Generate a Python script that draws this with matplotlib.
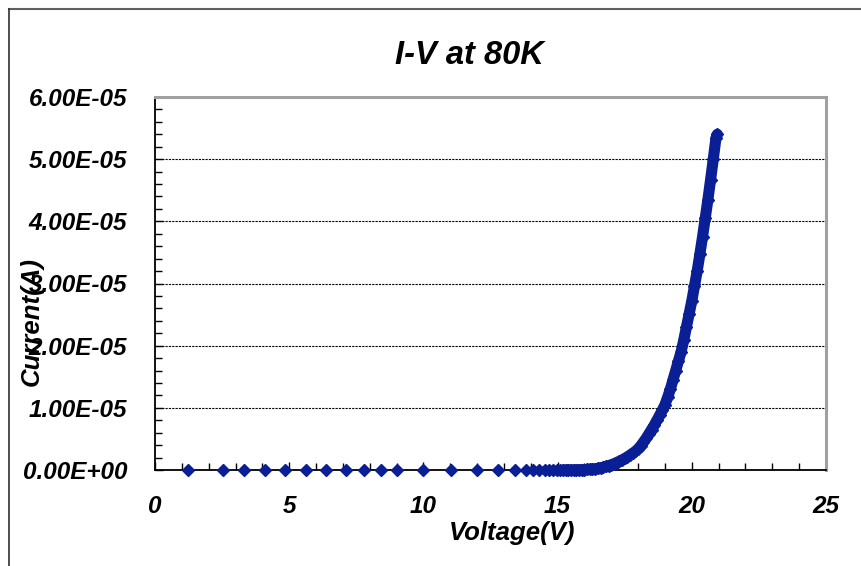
import numpy as np
import matplotlib
matplotlib.use("Agg")
import matplotlib.pyplot as plt
from matplotlib.lines import Line2D
from matplotlib.ticker import MultipleLocator, FormatStrFormatter

# sparse sweep points below turn-on (current ~ 0)
volt_low = [1.24, 2.54, 3.33, 4.11, 4.85, 5.63, 6.37, 7.10, 7.80, 8.41,
            9.03, 9.97, 11.03, 12.01, 12.77, 13.40, 13.81, 14.07, 14.32,
            14.53, 14.69, 14.84, 14.97, 15.08]
curr_low = [0.0] * len(volt_low)

# dense part of the sweep (current in units of 1e-5 A)
volt_high = [15.2, 15.3, 15.4, 15.5, 15.6, 15.7, 15.8, 15.9, 16.0, 16.1,
             16.2, 16.3, 16.4, 16.5, 16.6, 16.7, 16.8, 16.9, 17.0, 17.1,
             17.2, 17.3, 17.4, 17.5, 17.6, 17.7, 17.8, 17.9, 18.0, 18.1,
             18.2, 18.3, 18.4, 18.5, 18.6, 18.7, 18.8, 18.9, 19.0, 19.1,
             19.2, 19.3, 19.4, 19.5, 19.6, 19.7, 19.8, 19.9, 20.0, 20.1,
             20.2, 20.3, 20.4, 20.5, 20.6, 20.7, 20.8, 20.9, 20.95]
curr_high = [0.000, 0.001, 0.001, 0.002, 0.002, 0.003, 0.004, 0.005, 0.007, 0.009,
             0.012, 0.016, 0.021, 0.027, 0.035, 0.045, 0.057, 0.070, 0.085, 0.10,
             0.12, 0.14, 0.16, 0.185, 0.21, 0.24, 0.27, 0.30, 0.34, 0.39,
             0.45, 0.51, 0.58, 0.65, 0.72, 0.80, 0.88, 0.96, 1.05, 1.17,
             1.30, 1.45, 1.60, 1.75, 1.90, 2.09, 2.30, 2.51, 2.72, 2.96,
             3.20, 3.47, 3.75, 4.05, 4.35, 4.67, 5.00, 5.34, 5.40]

plt.rcParams['font.family'] = ['Liberation Sans', 'DejaVu Sans']
plt.rcParams['font.weight'] = 'bold'
plt.rcParams['font.style'] = 'italic'

navy = '#0a1f96'

fig = plt.figure(figsize=(8.61, 5.66), dpi=100)
ax = fig.add_axes([155/861, 96/566, 671/861, 373/566])

x_low = np.array(volt_low)
y_low = np.array(curr_low) * 1e-5
x_high = np.array(volt_high)
y_high = np.array(curr_high) * 1e-5

ax.plot(x_high, y_high, '-', color=navy, lw=8, solid_capstyle='round', zorder=3, clip_on=False)
ax.plot(x_high, y_high, 'D', color=navy, ms=6.5, mec=navy, zorder=4, clip_on=False)
ax.plot(x_low, y_low, 'D', color=navy, ms=6.5, mec=navy, zorder=4, clip_on=False)

ax.set_xlim(0, 25)
ax.set_ylim(0, 6e-5)
ax.xaxis.set_major_locator(MultipleLocator(5))
ax.xaxis.set_minor_locator(MultipleLocator(1))
ax.yaxis.set_major_locator(MultipleLocator(1e-5))
ax.yaxis.set_minor_locator(MultipleLocator(2e-6))
ax.yaxis.set_major_formatter(FormatStrFormatter('%.2E'))

ax.tick_params(which='both', direction='in', color='black', width=1)
ax.tick_params(which='major', length=6)
ax.tick_params(which='minor', length=5)
ax.tick_params(axis='y', labelsize=17.5, pad=20)
ax.tick_params(axis='x', labelsize=17.5, pad=18)
for lab in ax.get_xticklabels() + ax.get_yticklabels():
    lab.set_fontweight('bold')
    lab.set_fontstyle('italic')

ax.grid(axis='y', which='major', color='black', lw=0.8, linestyle=(0, (2, 1)))
ax.set_axisbelow(True)

ax.spines['top'].set_color('#a0a0a0')
ax.spines['top'].set_linewidth(2.2)
ax.spines['right'].set_color('#a0a0a0')
ax.spines['right'].set_linewidth(2.2)
ax.spines['left'].set_color('black')
ax.spines['left'].set_linewidth(1.3)
ax.spines['bottom'].set_color('black')
ax.spines['bottom'].set_linewidth(1.3)

fig.text(469/861, 1 - 55/566, 'I-V at 80K', ha='center', va='center',
         fontsize=23.5, fontweight='bold', fontstyle='italic')
fig.text(512/861, 1 - 533/566, 'Voltage(V)', ha='center', va='center',
         fontsize=18.5, fontweight='bold', fontstyle='italic')
fig.text(32/861, 1 - 322/566, 'Current(A)', ha='center', va='center', rotation=90,
         fontsize=18.5, fontweight='bold', fontstyle='italic')

# outer chart frame (top and left edges visible)
fig.add_artist(Line2D([9/861, 1], [1 - 9/566, 1 - 9/566], transform=fig.transFigure,
                      color='#606060', lw=1.5))
fig.add_artist(Line2D([9/861, 9/861], [0, 1 - 9/566], transform=fig.transFigure,
                      color='#303030', lw=1.2))

fig.savefig('out.png', dpi=100)
